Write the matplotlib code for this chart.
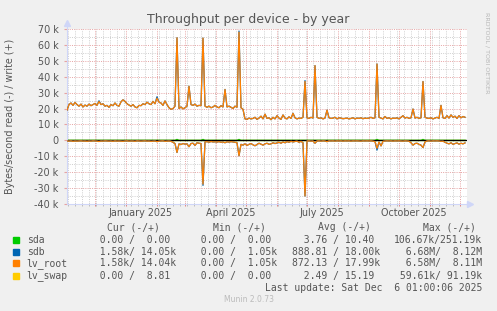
import numpy as np
import matplotlib
matplotlib.use('Agg')
from matplotlib import pyplot as plt
from matplotlib import transforms
from matplotlib.patches import Rectangle

# one sample every 2 days, starting at the left edge of the graph
start_day = np.datetime64('2024-11-03')
step_days = 2

# lv_root write (+), kB/s
root_write = [
    19.0, 22.5, 23.5, 22.0, 23.8, 22.5, 21.5, 22.8, 21.0, 22.2,
    21.5, 22.8, 21.8, 22.5, 23.2, 22.0, 24.4, 22.5, 23.0, 21.5,
    22.0, 20.8, 22.5, 21.8, 23.5, 22.0, 21.5, 24.2, 25.5, 24.5,
    23.0, 22.2, 21.5, 22.5, 21.0, 20.5, 22.0, 21.8, 23.0, 22.5,
    24.0, 23.0, 22.5, 24.5, 23.0, 26.5, 24.0, 23.5, 22.0, 24.8,
    22.5, 20.5, 19.5, 20.0, 21.5, 64.5, 20.0, 21.0, 19.8, 20.5,
    21.5, 34.0, 22.5, 22.0, 22.8, 21.5, 22.0, 21.8, 64.3, 21.5,
    20.8, 21.5, 20.5, 21.0, 22.0, 21.0, 20.5, 21.8, 21.0, 32.0,
    21.0, 21.5, 20.8, 20.0, 21.5, 20.8, 68.0, 20.5, 19.5, 13.5,
    13.2, 14.0, 13.5, 13.8, 14.5, 13.2, 14.0, 15.2, 13.5, 16.5,
    13.8, 14.2, 13.0, 14.5, 13.5, 15.5, 14.0, 13.2, 16.0, 14.0,
    13.5, 14.8, 13.8, 17.0, 14.2, 13.5, 14.0, 13.8, 14.5, 37.0,
    14.2, 13.8, 14.5, 14.0, 47.0, 14.5, 13.8, 14.2, 13.5, 14.0,
    19.0, 14.2, 13.8, 14.0, 14.5, 13.5, 14.2, 14.0, 13.6, 13.8,
    14.0, 13.5, 13.8, 14.2, 13.5, 14.0, 13.8, 14.2, 13.6, 14.0,
    13.8, 14.0, 14.5, 13.8, 14.2, 48.0, 14.5, 14.0, 13.5, 15.0,
    13.8, 14.2, 13.5, 14.0, 13.8, 14.2, 13.5, 14.5, 15.5, 14.0,
    14.5, 13.8, 14.2, 19.7, 14.0, 14.5, 13.8, 14.2, 37.0, 14.5,
    14.0, 13.8, 14.2, 13.5, 14.0, 14.5, 13.8, 22.0, 14.2, 13.8,
    15.5, 14.0, 16.0, 14.5, 15.2, 13.8, 15.5, 14.2, 15.0, 14.5,
]

# lv_root read (-), kB/s
root_read = [
    0.4, 0.5, 0.3, 0.6, 0.4, 0.5, 0.4, 0.3, 0.5, 0.4,
    0.6, 0.4, 0.5, 0.3, 0.4, 0.5, 0.7, 0.4, 0.5, 0.3,
    0.4, 0.5, 0.4, 0.6, 0.3, 0.5, 0.4, 0.5, 0.6, 0.4,
    0.3, 0.5, 0.4, 0.4, 0.6, 0.3, 0.4, 0.5, 0.4, 0.3,
    0.5, 0.4, 0.6, 0.5, 0.4, 0.8, 0.5, 0.4, 0.3, 0.6,
    0.5, 0.4, 0.6, 1.2, 2.0, 7.6, 2.2, 2.6, 2.0, 2.4,
    2.2, 4.0, 2.0, 1.8, 3.2, 1.5, 1.8, 2.0, 27.5, 1.0,
    0.8, 1.2, 0.7, 1.0, 0.9, 1.1, 0.8, 1.2, 1.0, 1.5,
    0.9, 1.1, 0.8, 1.0, 1.2, 1.5, 9.7, 2.5, 3.0, 2.2,
    3.2, 2.5, 2.0, 2.8, 3.4, 2.6, 1.8, 2.4, 3.0, 2.2,
    1.8, 2.5, 2.2, 1.5, 2.0, 1.6, 1.2, 1.8, 1.0, 1.5,
    0.8, 1.2, 0.6, 1.0, 0.7, 0.5, 1.2, 0.6, 1.5, 35.0,
    0.4, 0.3, 0.5, 0.4, 1.8, 0.4, 0.3, 0.5, 0.3, 0.4,
    0.8, 0.3, 0.4, 0.3, 0.5, 0.3, 0.4, 0.3, 0.5, 0.3,
    0.4, 0.3, 0.5, 0.3, 0.4, 0.3, 0.4, 0.5, 0.3, 0.4,
    0.3, 0.4, 0.3, 0.5, 0.8, 5.0, 1.0, 3.5, 0.6, 0.4,
    0.3, 0.4, 0.3, 0.5, 0.3, 0.4, 0.3, 0.4, 0.5, 0.3,
    0.4, 0.5, 1.5, 3.0, 2.0, 1.8, 2.5, 3.0, 4.5, 1.0,
    0.4, 0.3, 0.5, 0.3, 0.4, 0.3, 0.4, 0.6, 0.5, 1.2,
    1.8, 2.2, 1.5, 2.5, 2.0, 1.6, 2.4, 1.8, 2.2, 1.6,
]

# sdb follows lv_root, only a few peaks stick out above it
sdb_write_tips = {16: 24.9, 45: 27.4, 86: 68.7, 119: 37.6}
sdb_read_tips = {68: 28.3, 155: 6.1}
# sda only shows tiny blips
sda_write_bumps = {55: 0.6, 68: 0.6, 86: 0.6, 155: 0.6, 178: 0.6}

devices = ['sda', 'sdb', 'lv_root', 'lv_swap']
colors = ['#00CC00', '#0066B3', '#FF8000', '#FFCC00']
cur_vals = ['  0.00 /  0.00', '  1.58k/ 14.05k', '  1.58k/ 14.04k', '  0.00 /  8.81']
min_vals = ['  0.00 /  0.00', '  0.00 /  1.05k', '  0.00 /  1.05k', '  0.00 /  0.00']
avg_vals = ['  3.76 / 10.40', '888.81 / 18.00k', '872.13 / 17.99k', '  2.49 / 15.19']
max_vals = ['106.67k/251.19k', '  6.68M/  8.12M', '  6.58M/  8.11M', ' 59.61k/ 91.19k']
quarter_labels = ['January 2025', 'April 2025', 'July 2025', 'October 2025']
quarter_mid = ['2025-01-16', '2025-04-16', '2025-07-16', '2025-10-16']

W, H = 497, 311
BG = '#F0F0F0'
FONT = '#555555'
AXIS = '#CFD6F8'
MGRID = '#E6A3A3'
GRID = '#CFCFCF'


def fx(x):
    return x / W


def fy(y):
    return 1 - y / H


n = len(root_write)
days = start_day + np.arange(n) * step_days
zeros = np.zeros(n)

sdb_write = np.array(root_write)
for i, v in sdb_write_tips.items():
    sdb_write[i] = v
sdb_read = np.array(root_read)
for i, v in sdb_read_tips.items():
    sdb_read[i] = v
sda_write = np.zeros(n)
for i, v in sda_write_bumps.items():
    sda_write[i] = v

fig = plt.figure(figsize=(W / 100, H / 100), dpi=100, facecolor=BG)
ax = fig.add_axes([fx(67), fy(204), fx(400), 175 / H])
ax.set_facecolor('white')

x0, x1 = np.datetime64('2024-11-03'), np.datetime64('2025-12-08')
ax.set_xlim(x0, x1)
ax.set_ylim(-40, 70)

# grid
months = np.arange('2024-12', '2026-01', dtype='datetime64[M]').astype('datetime64[D]')
weeks = np.arange(np.datetime64('2024-11-04'), x1, 7)
weeks = np.array([w for w in weeks if w not in months])
dot = (0, (1, 1.3))
ax.vlines(weeks, -40, 70, colors=GRID, lw=0.7, linestyles=dot, zorder=0.5)
ax.vlines(months, -40, 70, colors=MGRID, lw=0.7, linestyles=dot, zorder=0.6)
ax.hlines(np.arange(-35, 70, 10), x0, x1, colors=GRID, lw=0.7, linestyles=dot, zorder=0.5)
ax.hlines(np.arange(-30, 71, 10), x0, x1, colors=MGRID, lw=0.7, linestyles=dot, zorder=0.6)

# tick marks crossing the x axis
tr = transforms.blended_transform_factory(ax.transData, ax.transAxes)
ax.vlines(weeks, -0.012, 0.006, colors='#BBBBBB', lw=0.7, transform=tr, clip_on=False)
ax.vlines(months, -0.014, 0.008, colors='#E08080', lw=0.7, transform=tr, clip_on=False)

# series
lw = 0.9
ax.plot(days, sda_write, color=colors[0], lw=lw, zorder=2)
ax.plot(days, -zeros, color=colors[0], lw=lw, zorder=2)
ax.plot(days, zeros, color=colors[3], lw=lw, zorder=2)
ax.axhline(0, color='black', lw=0.9, zorder=2.5)
ax.plot(days, sdb_write, color=colors[1], lw=lw, zorder=3)
ax.plot(days, -sdb_read, color=colors[1], lw=lw, zorder=3)
ax.plot(days, root_write, color=colors[2], lw=lw, zorder=4)
ax.plot(days, -np.array(root_read), color=colors[2], lw=lw, zorder=4)

# axes
for s in ['top', 'right']:
    ax.spines[s].set_visible(False)
for s in ['left', 'bottom']:
    ax.spines[s].set_color(AXIS)
    ax.spines[s].set_linewidth(0.8)
ax.plot([0, 0], [1, 1.035], color=AXIS, lw=0.8, transform=ax.transAxes, clip_on=False)
ax.plot([0], [1.035], marker='^', ms=4, color=AXIS, transform=ax.transAxes, clip_on=False)
ax.plot([1, 1.008], [0, 0], color=AXIS, lw=0.8, transform=ax.transAxes, clip_on=False)
ax.plot([1.008], [0], marker='>', ms=4, color=AXIS, transform=ax.transAxes, clip_on=False)

yt = np.arange(-40, 71, 10)
ax.set_yticks(yt)
ax.set_yticklabels([('%d k' % v) if v != 0 else '0' for v in yt])
ax.tick_params(axis='y', length=2, color=MGRID, pad=4, labelsize=6.9, labelcolor=FONT)
ax.set_xticks([])
for lab, mid in zip(quarter_labels, quarter_mid):
    ax.text(np.datetime64(mid), -0.05, lab, transform=tr, ha='center', va='center',
            fontsize=6.9, color=FONT)

# texts
fig.text(0.5, fy(19), 'Throughput per device - by year', ha='center', va='center',
         fontsize=9, color=FONT)
fig.text(fx(10), fy(116), 'Bytes/second read (-) / write (+)', rotation=90,
         ha='center', va='center', fontsize=6.9, color=FONT)
fig.text(fx(487), fy(53), 'RRDTOOL / TOBI OETIKER', rotation=270, ha='center',
         va='center', fontsize=4.6, color='#B8B8B8')
fig.text(0.5, fy(300), 'Munin 2.0.73', ha='center', va='center', fontsize=5.5,
         color='#BBBBBB')

mono = 'DejaVu Sans Mono'
fs = 7.05
headers = [(107, 'Cur (-/+)'), (212.7, 'Min (-/+)'), (318, 'Avg (-/+)'), (423, 'Max (-/+)')]
for hx, h in headers:
    fig.text(fx(hx), fy(227.5), h, family=mono, fontsize=fs, color=FONT, va='center')

row_y = [240, 251.7, 263.3, 275.7]
for k, name in enumerate(devices):
    y = row_y[k]
    fig.patches.append(Rectangle((fx(13), fy(y + 3)), fx(6), 6 / H, color=colors[k],
                                 transform=fig.transFigure, figure=fig))
    fig.text(fx(26.7), fy(y), name, family=mono, fontsize=fs, color=FONT, va='center')
    for cx, vals in [(87.5, cur_vals), (189.2, min_vals), (292.3, avg_vals), (394, max_vals)]:
        fig.text(fx(cx), fy(y), vals[k], family=mono, fontsize=fs, color=FONT, va='center')

fig.text(fx(482.3), fy(287.7), 'Last update: Sat Dec  6 01:00:06 2025', family=mono,
         fontsize=fs, color=FONT, ha='right', va='center')

fig.savefig('out.png', dpi=100, facecolor=BG)
